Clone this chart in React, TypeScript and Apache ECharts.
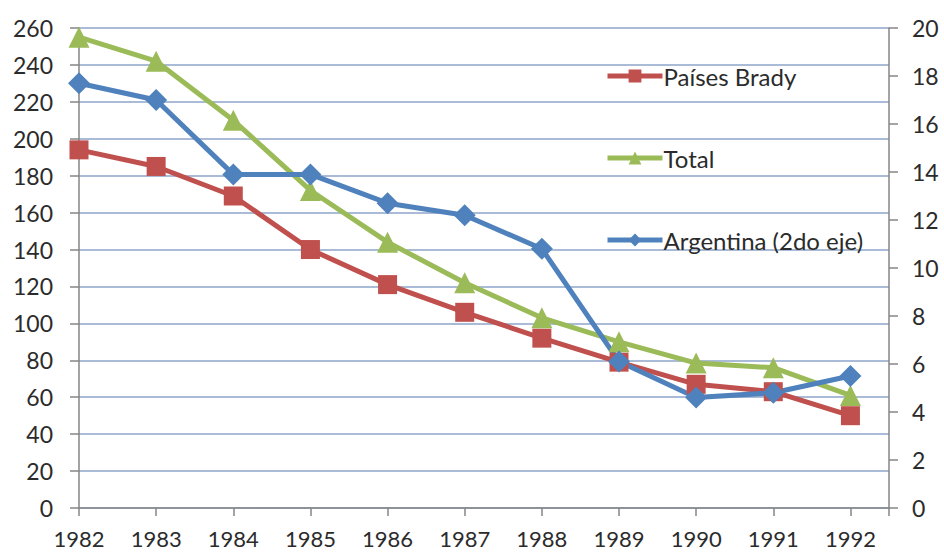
import React, { useEffect, useRef } from "react";
import * as echarts from "echarts";

const years = [1982, 1983, 1984, 1985, 1986, 1987, 1988, 1989, 1990, 1991, 1992];
const paisesBrady = [194, 185, 169, 140, 121, 106, 92, 79, 67, 63, 50];
const total = [255, 242, 210, 172, 144, 122, 103, 90, 78.5, 76, 61];
const argentina = [17.7, 17.0, 13.9, 13.9, 12.7, 12.2, 10.8, 6.1, 4.6, 4.8, 5.5];
const leftTicks = { min: 0, max: 260, interval: 20 };
const rightTicks = { min: 0, max: 20, interval: 2 };

const FONT = "Lato, 'Open Sans', sans-serif";
const TXT = "#2b2b2b";

export default function App() {
  const ref = useRef<HTMLDivElement>(null);
  useEffect(() => {
    if (!ref.current) return;
    const chart = echarts.init(ref.current, undefined, { renderer: "svg" });
    const pairs = (vals: number[]) => years.map((y, i) => [y, vals[i]]);
    chart.setOption({
      animation: false,
      backgroundColor: "#ffffff",
      textStyle: { fontFamily: FONT },
      grid: { left: 79, right: 55, top: 28, bottom: 44, containLabel: false, outerBoundsMode: "none" },
      legend: {
        orient: "vertical",
        left: 600,
        top: 58,
        itemWidth: 55,
        itemHeight: 16,
        itemGap: 56,
        lineStyle: { width: 5 },
        textStyle: { fontSize: 24, color: TXT, fontFamily: FONT, lineHeight: 26, padding: [0, 0, 0, -4] },
        data: ["Países Brady", "Total", "Argentina (2do eje)"],
      },
      xAxis: {
        type: "value",
        min: 1982,
        max: 1992.5,
        interval: 1,
        axisLine: { show: true, lineStyle: { color: "#868686", width: 1.5 } },
        axisTick: { show: true, length: 8, lineStyle: { color: "#868686", width: 1.5 } },
        splitLine: { show: false },
        axisLabel: {
          margin: 19,
          fontSize: 22,
          lineHeight: 22,
          color: TXT,
          fontFamily: FONT,
          formatter: (v: number) => (Number.isInteger(v) ? String(v) : ""),
        },
      },
      yAxis: [
        {
          type: "value",
          position: "left",
          min: leftTicks.min,
          max: leftTicks.max,
          interval: leftTicks.interval,
          axisLine: { show: true, lineStyle: { color: "#868686", width: 1.5 } },
          axisTick: { show: true, length: 9, lineStyle: { color: "#868686", width: 1.5 } },
          splitLine: { show: true, lineStyle: { color: "#A9BBD6", width: 2 } },
          axisLabel: { margin: 26, fontSize: 23, color: TXT, fontFamily: FONT },
        },
        {
          type: "value",
          position: "right",
          min: rightTicks.min,
          max: rightTicks.max,
          interval: rightTicks.interval,
          axisLine: { show: true, lineStyle: { color: "#868686", width: 1.5 } },
          axisTick: { show: true, length: 9, lineStyle: { color: "#868686", width: 1.5 } },
          splitLine: { show: false },
          axisLabel: { margin: 23, fontSize: 23, color: TXT, fontFamily: FONT },
        },
      ],
      series: [
        {
          name: "Países Brady",
          type: "line",
          yAxisIndex: 0,
          data: pairs(paisesBrady),
          symbol: "rect",
          symbolSize: 19,
          lineStyle: { color: "#C0504D", width: 5 },
          itemStyle: { color: "#C0504D" },
        },
        {
          name: "Total",
          type: "line",
          yAxisIndex: 0,
          data: pairs(total),
          symbol: "triangle",
          symbolSize: 21,
          lineStyle: { color: "#9BBB59", width: 5 },
          itemStyle: { color: "#9BBB59" },
        },
        {
          name: "Argentina (2do eje)",
          type: "line",
          yAxisIndex: 1,
          data: pairs(argentina),
          symbol: "diamond",
          symbolSize: 22,
          lineStyle: { color: "#4F81BD", width: 5 },
          itemStyle: { color: "#4F81BD" },
        },
      ],
    });
    return () => chart.dispose();
  }, []);
  return (
    <div
      ref={ref}
      style={{ position: "absolute", left: 0, top: 0, width: 944, height: 552 }}
    />
  );
}
